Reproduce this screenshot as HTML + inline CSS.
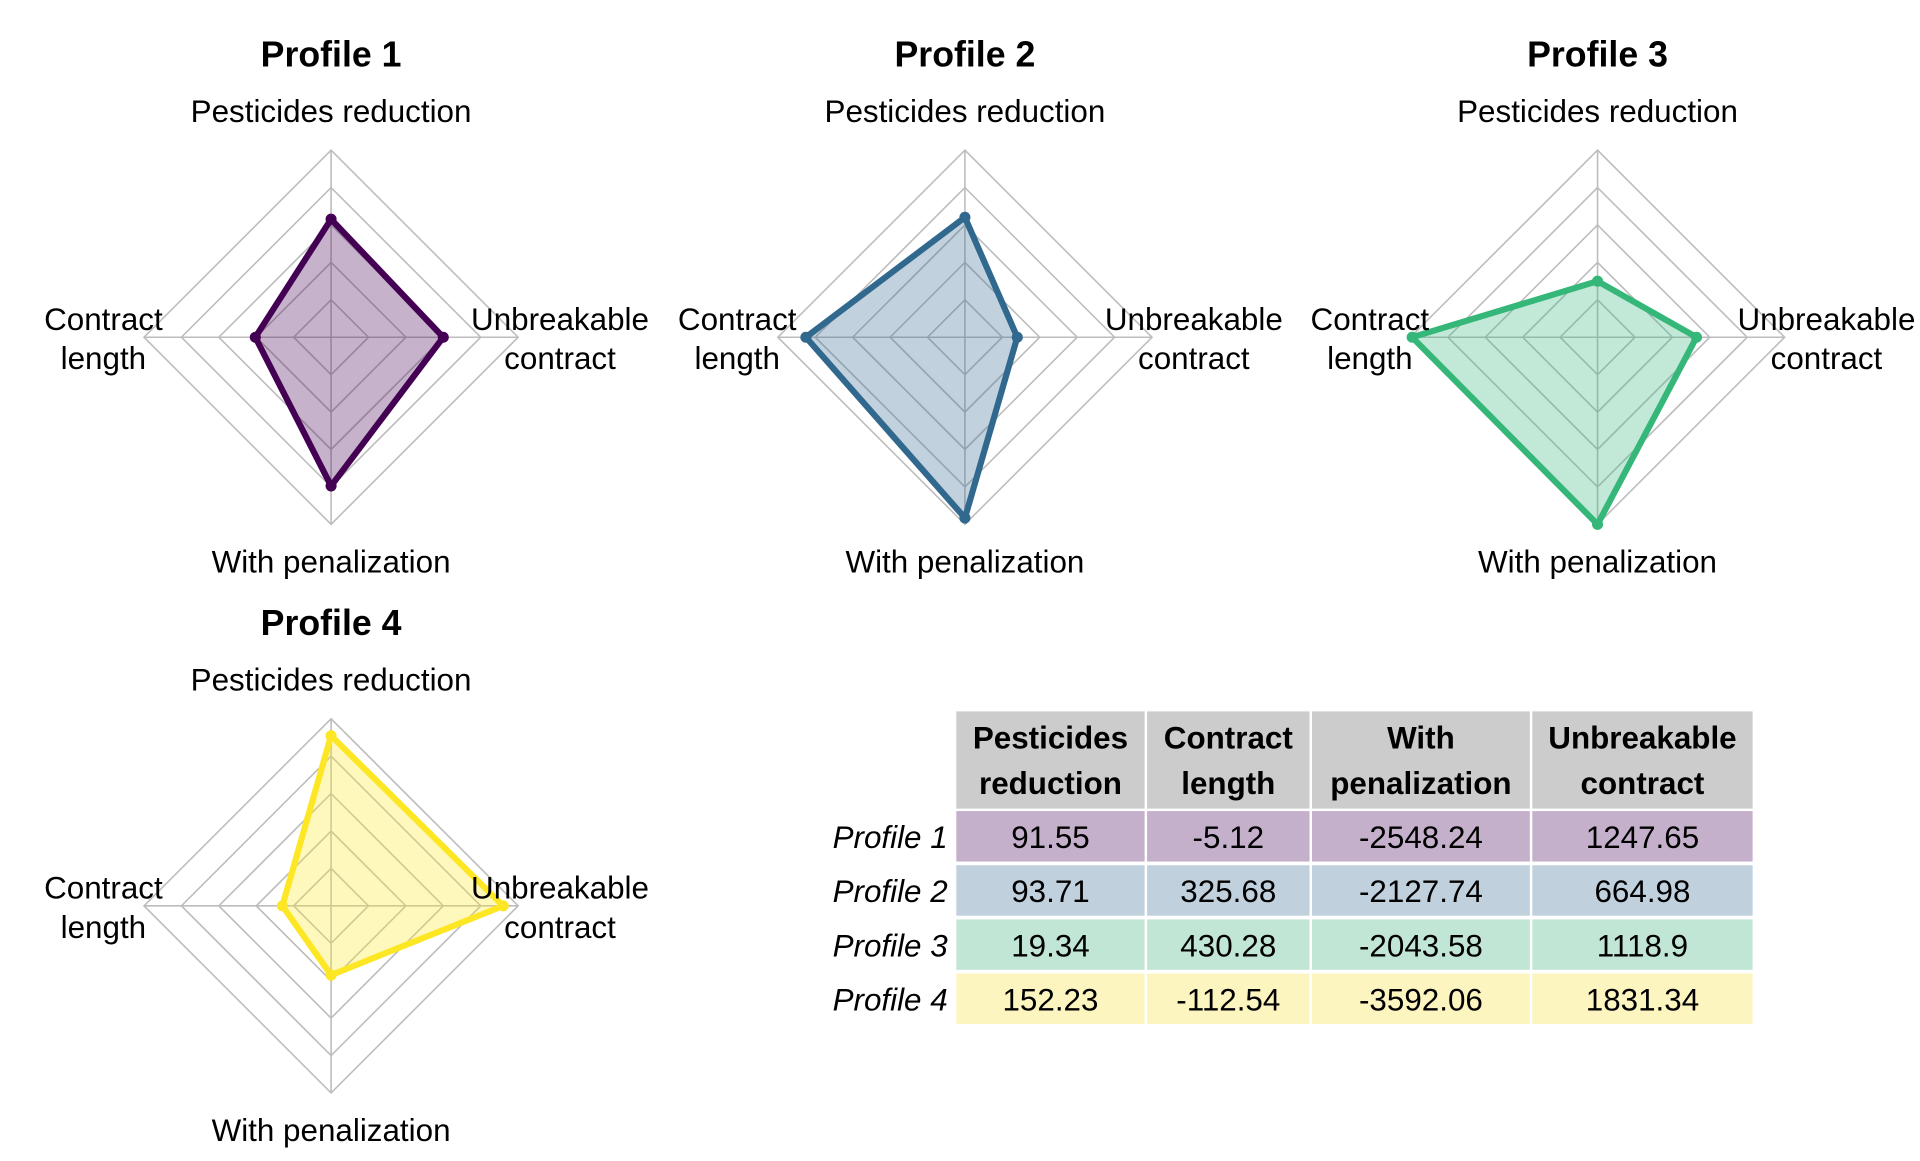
<!DOCTYPE html>
<html><head><meta charset="utf-8"><style>
html,body{margin:0;padding:0;background:#fff;}
svg{display:block;font-family:"Liberation Sans",Arial,sans-serif;}
</style></head><body>
<svg id="chart" width="1920" height="1161" viewBox="0 0 1560 943.3" xmlns="http://www.w3.org/2000/svg"></svg>
<script>
const profiles = ["Profile 1","Profile 2","Profile 3","Profile 4"];
const axesNames = ["Pesticides reduction","Contract length","With penalization","Unbreakable contract"];
const pesticides = [91.55, 93.71, 19.34, 152.23];
const contractLength = [-5.12, 325.68, 430.28, -112.54];
const withPenalization = [-2548.24, -2127.74, -2043.58, -3592.06];
const unbreakable = [1247.65, 664.98, 1118.9, 1831.34];
const tableValues = [["91.55","-5.12","-2548.24","1247.65"],["93.71","325.68","-2127.74","664.98"],["19.34","430.28","-2043.58","1118.9"],["152.23","-112.54","-3592.06","1831.34"]];
const domains = [[-46,172],[-306,437],[-4501,-2044],[155,1977]];

const NS="http://www.w3.org/2000/svg";
const svg=document.getElementById('chart');
function mk(tag,attrs,parent){const e=document.createElementNS(NS,tag);for(const k in attrs)e.setAttribute(k,attrs[k]);(parent||svg).appendChild(e);return e;}
const lineCols=["#440154","#31688e","#35b779","#fde725"];
const fillCols=["rgba(68,1,84,0.3)","rgba(49,104,142,0.3)","rgba(53,183,121,0.3)","rgba(253,231,37,0.3)"];
const cellCols=["#c5b0cc","#c0d0dd","#c2e6d5","#fdf5bf"];
const centers=[[269,274],[784,274],[1298,274],[269,736]];
const R=152;
function rscale(ai,v){const d=domains[ai];return R*(v-d[0])/(d[1]-d[0]);}
const dirs=[[0,-1],[-1,0],[0,1],[1,0]];
const LF=25.5;

profiles.forEach((p,i)=>{
  const [cx,cy]=centers[i];
  const g=mk('g',{});
  
  
  const t=mk('text',{x:cx,y:cy-220,'text-anchor':'middle','font-size':29,'font-weight':'bold'},g);
  t.textContent=p;
  
  
  for(let k=1;k<=5;k++){
    const r=R*k/5;
    const ring=mk('polygon',{points:dirs.map(d=>(cx+d[0]*r)+','+(cy+d[1]*r)).join(' '),fill:'none',stroke:'#bdbdbd','stroke-width':1.3},g);
    
    
  }
  dirs.forEach(d=>{
    const s=mk('line',{x1:cx,y1:cy,x2:cx+d[0]*R,y2:cy+d[1]*R,stroke:'#bdbdbd','stroke-width':1.3},g);
    
    
  });
  const vals=[pesticides[i],contractLength[i],withPenalization[i],unbreakable[i]];
  const pts=vals.map((v,a)=>{const r=rscale(a,v);return [cx+dirs[a][0]*r,cy+dirs[a][1]*r];});
  const poly=mk('polygon',{points:pts.map(q=>q.join(',')).join(' '),fill:fillCols[i],stroke:lineCols[i],'stroke-width':5,'stroke-linejoin':'miter'},g);
  
  
  pts.forEach(q=>{
    const c=mk('circle',{cx:q[0],cy:q[1],r:4.5,fill:lineCols[i]},g);
    
    
  });
  const lab=(txt,x,y)=>{const e=mk('text',{x:x,y:y,'text-anchor':'middle','font-size':LF},g);e.textContent=txt;return e;};
  lab("Pesticides reduction",cx,cy-175);
  lab("With penalization",cx,cy+191);
  lab("Contract",cx-185,cy-6);lab("length",cx-185,cy+26);
  lab("Unbreakable",cx+186,cy-6);lab("contract",cx+186,cy+26);
});

const colX=[777,932,1066,1245,1426];
const tg=mk('g',{});


const hdr=[["Pesticides","reduction"],["Contract","length"],["With","penalization"],["Unbreakable","contract"]];
hdr.forEach((h,c)=>{
  const r=mk('rect',{x:colX[c],y:578,width:colX[c+1]-colX[c]-2,height:79,fill:'#cccccc'},tg);
  
  
  const mid=(colX[c]+colX[c+1]-2)/2;
  h.forEach((s,j)=>{const t=mk('text',{x:mid,y:608+j*37,'text-anchor':'middle','font-size':LF,'font-weight':'bold'},tg);t.textContent=s;
    });
});
const rowY=[659,703,747,791];
tableValues.forEach((row,ri)=>{
  const rl=mk('text',{x:770,y:rowY[ri]+30,'text-anchor':'end','font-size':LF,'font-style':'italic'},tg);
  rl.textContent=profiles[ri];
  
  
  row.forEach((v,c)=>{
    const r=mk('rect',{x:colX[c],y:rowY[ri],width:colX[c+1]-colX[c]-2,height:41,fill:cellCols[ri]},tg);
    
    
    const t=mk('text',{x:(colX[c]+colX[c+1]-2)/2,y:rowY[ri]+30,'text-anchor':'middle','font-size':LF},tg);
    t.textContent=v;
    
    
  });
});
</script>
</body></html>
